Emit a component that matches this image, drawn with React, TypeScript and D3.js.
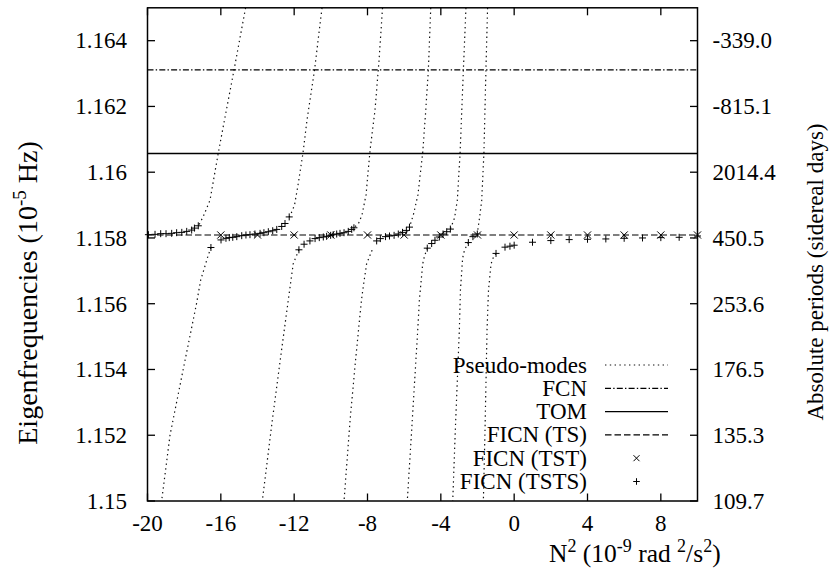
import React from 'react';
import * as d3 from 'd3';

const xTicks = [-20, -16, -12, -8, -4, 0, 4, 8];
const xTickLabels = ['-20', '-16', '-12', '-8', '-4', '0', '4', '8'];
const yTicks = [1.15, 1.152, 1.154, 1.156, 1.158, 1.16, 1.162, 1.164];
const yTickLabels = ['1.15', '1.152', '1.154', '1.156', '1.158', '1.16', '1.162', '1.164'];
const y2TickLabels = ['109.7', '135.3', '176.5', '253.6', '450.5', '2014.4', '-815.1', '-339.0'];

const fcnFreq = 1.16311;
const tomFreq = 1.16057;
const ficnTsFreq = 1.15809;

// Pseudo-mode branches, [N2, frequency]
const pseudoUpper1 = [[-14.65, 1.165], [-15.28, 1.16311], [-15.8, 1.16159], [-16.14, 1.16058], [-16.59, 1.15915], [-16.96, 1.15865], [-17.23, 1.15836]];
const pseudoLower1 = [[-16.54, 1.15771], [-16.74, 1.15738], [-16.9, 1.15708], [-17.1, 1.15672], [-17.32, 1.15602], [-18.05, 1.15401], [-18.77, 1.15201], [-19.23, 1.15]];
const pseudoUpper2 = [[-10.48, 1.165], [-10.89, 1.16311], [-11.3, 1.16159], [-11.52, 1.16058], [-11.79, 1.15961], [-11.98, 1.159], [-12.2, 1.1587], [-12.27, 1.15864]];
const pseudoLower2 = [[-11.74, 1.15764], [-12.05, 1.15722], [-12.32, 1.15611], [-12.76, 1.15429], [-13.19, 1.15246], [-13.74, 1.15]];
const pseudoUpper3 = [[-7.18, 1.165], [-7.37, 1.16341], [-7.59, 1.16189], [-7.86, 1.16067], [-8.08, 1.15931], [-8.3, 1.1587], [-8.49, 1.15844], [-8.74, 1.15831]];
const pseudoLower3 = [[-7.75, 1.15763], [-8.05, 1.15721], [-8.22, 1.15657], [-8.33, 1.15611], [-8.65, 1.15429], [-8.95, 1.15246], [-9.28, 1.15]];
const pseudoUpper4 = [[-4.55, 1.165], [-4.68, 1.16311], [-4.84, 1.16174], [-4.99, 1.16058], [-5.25, 1.15931], [-5.5, 1.1587], [-5.71, 1.15833]];
const pseudoLower4 = [[-4.74, 1.15769], [-4.89, 1.15745], [-4.99, 1.15721], [-5.17, 1.15611], [-5.26, 1.1552], [-5.59, 1.15216], [-5.83, 1.15]];
const pseudoUpper5 = [[-2.63, 1.165], [-2.77, 1.16311], [-2.95, 1.16058], [-3.1, 1.15915], [-3.25, 1.15861], [-3.48, 1.15827]];
const pseudoLower5 = [[-2.5, 1.15786], [-2.71, 1.15763], [-2.81, 1.15739], [-2.93, 1.15642], [-2.99, 1.1552], [-3.21, 1.15216], [-3.35, 1.15]];
const pseudoUpper6 = [[-1.45, 1.165], [-1.54, 1.16311], [-1.65, 1.16058], [-1.77, 1.15915], [-1.89, 1.15861], [-2.01, 1.15815]];
const pseudoLower6 = [[-0.99, 1.15753], [-1.15, 1.15739], [-1.26, 1.15721], [-1.4, 1.15642], [-1.48, 1.1552], [-1.59, 1.15216], [-1.68, 1.15]];

const pseudoBranches = [pseudoUpper1, pseudoLower1, pseudoUpper2, pseudoLower2, pseudoUpper3, pseudoLower3,
  pseudoUpper4, pseudoLower4, pseudoUpper5, pseudoLower5, pseudoUpper6, pseudoLower6];

// FICN (TST)
const tstN2 = [-16, -14, -12, -10, -8, -6, -4, -2, 0, 2, 4, 6, 8, 10];
const tstFreq = [1.15809, 1.15809, 1.15809, 1.15809, 1.15809, 1.15809, 1.15809, 1.15809, 1.15809, 1.15809, 1.15809, 1.15809, 1.15809, 1.15809];

// FICN (TSTS)
const tstsN2 = [
  -19.95, -19.59, -19.28, -18.99, -18.68, -18.41, -18.13, -17.86, -17.59, -17.44, -17.23,
  -16.54,
  -15.99, -15.72, -15.54, -15.35, -15.13, -14.86, -14.63, -14.41, -14.14, -13.86, -13.65, -13.41, -13.17, -12.95, -12.68, -12.5, -12.27,
  -11.74, -11.46, -11.14, -10.86, -10.63, -10.41, -10.23, -10.01, -9.87, -9.68, -9.5, -9.28, -9.05, -8.86, -8.74,
  -7.5, -7.3, -7.02, -6.8, -6.55, -6.32, -6.09, -5.88, -5.71,
  -4.74, -4.5, -4.32, -4.08, -3.88, -3.68, -3.48,
  -2.5, -2.25, -2.01,
  -0.99, -0.5, -0.23, 0, 1, 2, 3, 4, 5, 6, 7, 8, 9, 10,
];
const tstsFreq = [
  1.1581, 1.15811, 1.15813, 1.15813, 1.15814, 1.15816, 1.15817, 1.1582, 1.15824, 1.1583, 1.15837,
  1.15771,
  1.15794, 1.15799, 1.15801, 1.15802, 1.15804, 1.15807, 1.15809, 1.1581, 1.15812, 1.15814, 1.15816, 1.15819, 1.15822, 1.15826, 1.15835, 1.15844, 1.15864,
  1.15764, 1.15781, 1.15791, 1.15798, 1.15801, 1.15803, 1.15805, 1.15808, 1.1581, 1.15812, 1.15814, 1.15816, 1.1582, 1.15826, 1.15831,
  1.15791, 1.15798, 1.15804, 1.15806, 1.15808, 1.15812, 1.15817, 1.15823, 1.15833,
  1.15769, 1.15783, 1.15793, 1.15803, 1.15812, 1.15819, 1.15827,
  1.15786, 1.15804, 1.15812,
  1.15753, 1.15772, 1.15775, 1.15778, 1.15787, 1.15792, 1.15795, 1.15796, 1.15797, 1.15799, 1.158, 1.15801, 1.15802, 1.15806,
];

const legendLabels = ['Pseudo-modes', 'FCN', 'TOM', 'FICN (TS)', 'FICN (TST)', 'FICN (TSTS)'];

const W = 836;
const H = 575;
const L = 147.5, R = 697.5, T = 7.8, B = 501;
const FONT = "'Liberation Serif', 'Times New Roman', Times, serif";
const FS = 23;

export default function App() {
  const x = d3.scaleLinear().domain([-20, 10]).range([L, R]);
  const y = d3.scaleLinear().domain([1.15, 1.165]).range([B, T]);
  const line = d3.line<number[]>().x(d => x(d[0])).y(d => y(d[1]));
  const tickLen = 7.5;
  const dotted = '1.4,3.4';
  const dashDot = '6,2.2,1.4,2.2';
  const dashed = '6.5,3';
  const legX1 = 605, legX2 = 668, legTextX = 587, legY0 = 365, legDy = 23.3;

  const plus = (cx: number, cy: number, s: number, k: string) => (
    <path key={k} d={`M${cx - s},${cy}H${cx + s}M${cx},${cy - s}V${cy + s}`} stroke="#000" strokeWidth={1} fill="none" />
  );
  const cross = (cx: number, cy: number, s: number, k: string) => (
    <path key={k} d={`M${cx - s},${cy - s}L${cx + s},${cy + s}M${cx - s},${cy + s}L${cx + s},${cy - s}`} stroke="#000" strokeWidth={1} fill="none" />
  );
  const ts = { fontFamily: FONT };

  return (
    <svg width={W} height={H} style={{ position: 'absolute', left: 0, top: 0, background: '#fff', fontFamily: FONT }}>
      <defs>
        <clipPath id="plotclip">
          <rect x={L} y={T} width={R - L} height={B - T} />
        </clipPath>
      </defs>
      <rect x={0} y={0} width={W} height={H} fill="#fff" />
      <g clipPath="url(#plotclip)">
        {pseudoBranches.map((b, i) => (
          <path key={'pm' + i} d={line(b as number[][]) || ''} fill="none" stroke="#111" strokeWidth={1.2} strokeDasharray={dotted} />
        ))}
        <line x1={L} x2={R} y1={y(fcnFreq)} y2={y(fcnFreq)} stroke="#000" strokeWidth={1.2} strokeDasharray={dashDot} />
        <line x1={L} x2={R} y1={y(tomFreq)} y2={y(tomFreq)} stroke="#000" strokeWidth={1.4} />
        <line x1={L} x2={R} y1={y(ficnTsFreq)} y2={y(ficnTsFreq)} stroke="#000" strokeWidth={1.2} strokeDasharray={dashed} />
      </g>
      {tstN2.map((n, i) => cross(x(n), y(tstFreq[i]), 3.6, 'tst' + i))}
      {tstsN2.map((n, i) => plus(x(n), y(tstsFreq[i]), 3.5, 'tsts' + i))}

      {/* frame */}
      <rect x={L} y={T} width={R - L} height={B - T} fill="none" stroke="#000" strokeWidth={1.5} />
      {xTicks.map((t, i) => (
        <g key={'xt' + i}>
          <line x1={x(t)} x2={x(t)} y1={B} y2={B - tickLen} stroke="#000" strokeWidth={1.3} />
          <line x1={x(t)} x2={x(t)} y1={T} y2={T + tickLen} stroke="#000" strokeWidth={1.3} />
          <text x={x(t)} y={531} textAnchor="middle" fontSize={FS} style={ts}>{xTickLabels[i]}</text>
        </g>
      ))}
      {yTicks.map((t, i) => (
        <g key={'yt' + i}>
          <line x1={L} x2={L + tickLen} y1={y(t)} y2={y(t)} stroke="#000" strokeWidth={1.3} />
          <line x1={R} x2={R - tickLen} y1={y(t)} y2={y(t)} stroke="#000" strokeWidth={1.3} />
          <text x={127} y={y(t) + 7.8} textAnchor="end" fontSize={FS} style={ts}>{yTickLabels[i]}</text>
          <text x={712.5} y={y(t) + 7.8} textAnchor="start" fontSize={FS} style={ts}>{y2TickLabels[i]}</text>
        </g>
      ))}

      {/* axis titles */}
      <text transform={`translate(37,293) rotate(-90)`} textAnchor="middle" fontSize={28} style={ts}>
        Eigenfrequencies (10<tspan fontSize={19} dy={-11}>-5</tspan><tspan dy={11}> Hz)</tspan>
      </text>
      <text transform={`translate(823,272) rotate(-90)`} textAnchor="middle" fontSize={FS} style={ts}>
        Absolute periods (sidereal days)
      </text>
      <text x={549} y={561.5} textAnchor="start" fontSize={25.5} style={ts}>
        N<tspan fontSize={18} dy={-10}>2</tspan><tspan dy={10}> (10</tspan><tspan fontSize={18} dy={-10}>-9</tspan><tspan dy={10}> rad </tspan><tspan fontSize={18} dy={-10}>2</tspan><tspan dy={10}>/s</tspan><tspan fontSize={18} dy={-10}>2</tspan><tspan dy={10}>)</tspan>
      </text>

      {/* legend */}
      {legendLabels.map((lab, i) => {
        const ly = legY0 + i * legDy;
        let sample: React.ReactNode = null;
        if (i === 0) sample = <line x1={legX1} x2={legX2} y1={ly} y2={ly} stroke="#111" strokeWidth={1.2} strokeDasharray={dotted} />;
        else if (i === 1) sample = <line x1={legX1} x2={legX2} y1={ly} y2={ly} stroke="#000" strokeWidth={1.2} strokeDasharray={dashDot} />;
        else if (i === 2) sample = <line x1={legX1} x2={legX2} y1={ly} y2={ly} stroke="#000" strokeWidth={1.4} />;
        else if (i === 3) sample = <line x1={legX1} x2={legX2} y1={ly} y2={ly} stroke="#000" strokeWidth={1.2} strokeDasharray={dashed} />;
        else if (i === 4) sample = cross((legX1 + legX2) / 2, ly, 3, 'lx');
        else sample = plus((legX1 + legX2) / 2, ly, 3.3, 'lp');
        return (
          <g key={'leg' + i}>
            <text x={legTextX} y={ly + 7.5} textAnchor="end" fontSize={FS} style={ts}>{lab}</text>
            {sample}
          </g>
        );
      })}
    </svg>
  );
}
